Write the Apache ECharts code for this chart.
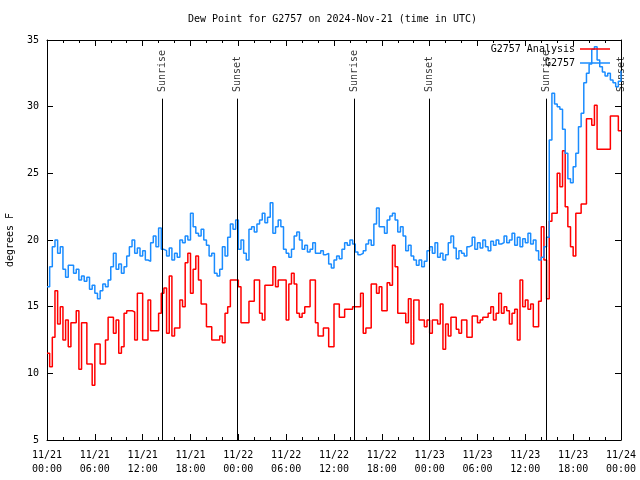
<!DOCTYPE html>
<html><head><meta charset="utf-8">
<script src="https://cdn.jsdelivr.net/npm/echarts@6/dist/echarts.min.js"></script>
<style>html,body{margin:0;padding:0;background:#fff}#c{width:640px;height:480px}</style>
</head><body><div id="c"></div>
<script>
const chartTitle = 'Dew Point for G2757 on 2024-Nov-21 (time in UTC)';
const yAxisTitle = 'degrees F';
const xTickLabels = ['11/21\n00:00','11/21\n06:00','11/21\n12:00','11/21\n18:00','11/22\n00:00','11/22\n06:00','11/22\n12:00','11/22\n18:00','11/23\n00:00','11/23\n06:00','11/23\n12:00','11/23\n18:00','11/24\n00:00'];
const stepHours = 1/3; // one sample every 20 minutes, hours since 11/21 00:00
const seriesNames = ['G2757 Analysis', 'G2757'];
const analysis = [
11.5,10.5,12.7, 16.2,13.7,15.0, 12.5,14.0,12.0, 13.8,13.8,14.7, 10.3,13.8,13.8, 10.7,10.7,9.1,
12.2,12.2,10.7, 10.7,12.5,14.2, 14.2,13.0,14.0, 11.5,12.0,14.5, 14.7,14.7,14.6, 12.5,16.0,16.0,
12.5,12.5,15.5, 13.2,13.2,13.2, 14.5,16.0,16.4, 13.0,17.3,12.8, 13.4,13.4,15.5, 15.0,18.3,19.0,
16.0,17.8,18.8, 17.0,15.2,15.2, 13.5,13.5,12.5, 12.5,12.5,12.8, 12.3,14.5,15.0, 17.0,17.0,17.0,
16.5,13.8,13.8, 13.8,15.4,15.4, 17.0,17.0,14.5, 14.0,16.6,16.6, 16.6,18.0,16.5, 17.0,17.0,17.0,
14.0,16.7,17.5, 16.7,14.5,14.2, 14.5,15.0,15.0, 17.0,17.0,13.8, 12.8,12.8,13.4, 13.4,12.0,12.0,
15.2,15.2,14.2, 14.2,14.8,14.8, 14.8,15.0,15.0, 15.0,16.0,13.0, 13.4,13.4,16.7, 16.7,16.0,16.5,
14.7,14.7,16.8, 16.6,19.6,18.0, 14.5,14.5,14.5, 13.8,15.6,12.2, 15.5,15.5,14.0, 14.0,13.5,14.0,
13.0,14.0,14.0, 13.7,15.2,11.8, 13.7,12.8,14.2, 14.2,13.3,13.0, 14.0,14.0,12.7, 12.7,14.3,14.3,
13.8,14.0,14.2, 14.2,14.5,15.0, 14.0,14.5,16.0, 14.5,15.0,14.7, 13.7,14.5,14.8, 12.5,17.0,15.0,
15.5,14.8,15.2, 13.5,13.5,15.4, 21.0,18.5,15.6, 21.4,22.0,22.0, 25.0,24.0,26.7, 22.5,21.0,19.5,
18.8,22.0,22.0, 22.7,22.7,29.1, 29.1,28.6,30.1, 26.8,26.8,26.8, 26.8,26.8,29.3, 29.3,29.3,28.2,
28.2];
const station = [
16.5,18.0,19.5, 20.0,19.0,19.5, 17.8,17.2,18.1, 18.1,17.5,17.8, 17.0,17.3,16.9, 17.2,16.3,16.6,
16.0,15.6,16.2, 16.7,16.5,17.0, 18.0,19.0,17.8, 18.2,17.5,18.0, 18.8,19.5,20.0, 19.0,19.4,18.8,
19.2,18.5,18.4, 19.8,20.3,19.5, 20.9,19.3,19.2, 18.8,19.4,18.5, 19.0,18.7,20.0, 19.8,20.3,20.0,
22.0,21.0,20.5, 20.3,20.8,20.0, 19.6,18.8,19.0, 17.5,17.3,17.8, 19.5,18.8,20.2, 21.2,20.8,21.5,
19.3,20.0,19.0, 18.5,20.8,21.0, 20.6,21.2,21.5, 22.0,21.3,21.7, 22.8,20.5,21.0, 21.5,21.0,19.3,
19.0,18.7,19.3, 20.3,20.6,20.0, 19.3,19.6,19.1, 19.3,19.8,19.0, 19.0,19.2,18.9, 19.0,18.2,17.9,
18.5,18.8,18.6, 19.3,19.8,19.6, 20.0,19.7,19.1, 18.9,19.0,19.2, 19.7,20.0,19.6, 21.2,22.4,21.0,
21.0,20.5,21.5, 21.8,22.0,21.5, 20.6,21.0,20.3, 19.2,19.6,18.8, 18.5,18.1,18.5, 18.0,18.4,19.2,
19.5,19.0,19.8, 18.7,19.0,18.5, 18.9,19.8,20.3, 19.4,18.6,19.2, 19.0,18.8,19.5, 19.6,20.2,19.3,
19.8,19.4,20.0, 19.5,19.2,19.9, 19.6,20.0,19.7, 19.8,20.3,19.8, 20.0,20.5,19.6, 20.2,19.5,20.1,
19.8,20.5,19.7, 20.0,19.2,18.5, 18.7,19.5,20.2, 27.5,31.0,30.2, 30.0,29.8,28.3, 26.5,24.6,24.3,
25.5,26.5,28.5, 29.5,31.8,32.5, 33.2,34.3,34.5, 33.5,33.0,32.6, 32.3,32.5,32.0, 31.8,31.5,31.9,
32.7];
const sunTimes = [14.47, 23.88, 38.56, 47.97, 62.65, 72.0];
const sunLabels = ['Sunrise','Sunset','Sunrise','Sunset','Sunrise','Sunset'];
const sunLineTop = 30.6;
const sunLabelBase = 31.1;

const FONT = 'DejaVu Sans Mono';
const txt = {fontFamily: FONT, fontSize: 10, color: '#000'};
const toPairs = arr => arr.map((v, i) => [i * stepHours, v]);

const axisCommonX = {
  type: 'value', min: 0, max: 72, interval: 6,
  axisLine: {show: true, onZero: false, lineStyle: {color: '#000', width: 1}},
  axisTick: {show: true, inside: true, length: 6, lineStyle: {color: '#000'}},
  minorTick: {show: true, splitNumber: 3, length: 3, lineStyle: {color: '#000'}},
  splitLine: {show: false}
};
const axisCommonY = {
  type: 'value', min: 5, max: 35, interval: 5,
  axisLine: {show: true, onZero: false, lineStyle: {color: '#000', width: 1}},
  axisTick: {show: true, inside: true, length: 6, lineStyle: {color: '#000'}},
  splitLine: {show: false}
};

const chart = echarts.init(document.getElementById('c'), null, {renderer: 'canvas'});
chart.setOption({
  animation: false,
  backgroundColor: '#fff',
  title: {text: chartTitle, left: 188, top: 14, padding: 0,
    textStyle: {fontFamily: FONT, fontSize: 10, fontWeight: 'normal', color: '#000'}},
  grid: {left: 47, right: 19, top: 40, bottom: 40, containLabel: false, outerBoundsMode: 'none'},
  legend: {
    data: seriesNames, orient: 'vertical', right: 30, top: 44, align: 'right', padding: 0,
    icon: 'path://M0,0H30V1.5H0Z',
    itemWidth: 30, itemHeight: 10, itemGap: 4, textStyle: txt
  },
  xAxis: [
    Object.assign({}, axisCommonX, {position: 'bottom',
      axisLabel: Object.assign({}, txt, {margin: 8, lineHeight: 14, formatter: v => xTickLabels[Math.round(v / 6)]})}),
    Object.assign({}, axisCommonX, {position: 'top', axisLabel: {show: false}})
  ],
  yAxis: [
    Object.assign({}, axisCommonY, {position: 'left',
      name: yAxisTitle, nameLocation: 'middle', nameGap: 32, nameRotate: 90, nameTextStyle: txt,
      axisLabel: Object.assign({}, txt, {margin: 8})}),
    Object.assign({}, axisCommonY, {position: 'right', axisLabel: {show: false}})
  ],
  series: [
    {name: seriesNames[0], type: 'line', step: 'end', symbol: 'none', data: toPairs(analysis),
     lineStyle: {color: '#ff0000', width: 1.5}, itemStyle: {color: '#ff0000'}},
    {name: seriesNames[1], type: 'line', step: 'end', symbol: 'none', data: toPairs(station),
     lineStyle: {color: '#1a8cff', width: 1.5}, itemStyle: {color: '#1a8cff'}},
    {name: 'sun', type: 'scatter', symbolSize: 0, silent: true,
     data: sunTimes.map(t => [t, sunLabelBase]),
     label: Object.assign({}, txt, {show: true, position: 'inside', rotate: 90, align: 'left', verticalAlign: 'middle',
       formatter: p => sunLabels[p.dataIndex]}),
     markLine: {silent: true, symbol: ['none', 'none'], label: {show: false},
       lineStyle: {color: '#000', width: 1, type: 'solid'},
       data: sunTimes.map(t => [{coord: [t, 5]}, {coord: [t, sunLineTop]}])}}
  ]
});
</script></body></html>
